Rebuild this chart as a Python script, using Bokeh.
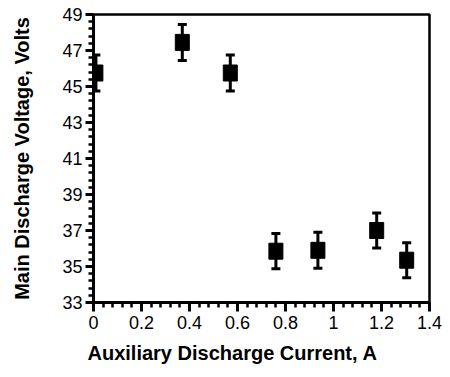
from bokeh.plotting import figure
from bokeh.models import (ColumnDataSource, Range1d, FixedTicker, Whisker,
                          TeeHead, Title)
from bokeh.embed import file_html
from bokeh.resources import INLINE

# Measured discharge data
aux_current = [0.01, 0.37, 0.57, 0.76, 0.935, 1.18, 1.305]      # A
main_voltage = [45.75, 47.45, 45.75, 35.85, 35.9, 37.0, 35.35]  # V
voltage_err = [1.0, 1.0, 1.0, 0.98, 1.0, 0.97, 0.97]            # V

x_ticks = [0, 0.2, 0.4, 0.6, 0.8, 1.0, 1.2, 1.4]
y_ticks = [33, 35, 37, 39, 41, 43, 45, 47, 49]

# minor tick positions: 5 subdivisions per labelled interval
x_minor = [round(i * 0.04, 2) for i in range(36)]
y_minor = [round(33 + i * 0.4, 1) for i in range(41)]

src = ColumnDataSource(dict(
    x=aux_current,
    y=main_voltage,
    upper=[v + e for v, e in zip(main_voltage, voltage_err)],
    lower=[v - e for v, e in zip(main_voltage, voltage_err)],
))

p = figure(width=450, height=377, output_backend="svg", toolbar_location=None,
           x_range=Range1d(0, 1.4), y_range=Range1d(33, 49),
           min_border_left=93, min_border_right=21,
           min_border_top=14, min_border_bottom=75,
           background_fill_color="white", border_fill_color="white")

p.xgrid.visible = False
p.ygrid.visible = False
p.outline_line_color = "black"
p.outline_line_width = 2.5
p.outline_line_alpha = 1.0

TICK_FONT = "Liberation Sans"
LABEL_FONT = "Liberation Sans"

# x axis
xa = p.xaxis[0]
xa.ticker = FixedTicker(ticks=x_ticks, minor_ticks=x_minor)
xa.major_label_overrides = {0: "0", 1: "1"}
xa.axis_line_width = 3
xa.major_tick_line_width = 3
xa.minor_tick_line_width = 2.5
xa.minor_tick_line_color = "black"
xa.major_tick_out = 9
xa.major_tick_in = 0
xa.minor_tick_out = 5
xa.minor_tick_in = 0
xa.major_label_standoff = 4
xa.major_label_text_font = TICK_FONT
xa.major_label_text_font_size = "18px"
xa.major_label_text_color = "black"

# y axis
ya = p.yaxis[0]
ya.ticker = FixedTicker(ticks=y_ticks, minor_ticks=y_minor)
ya.axis_line_width = 3
ya.major_tick_line_width = 3
ya.minor_tick_line_width = 2.5
ya.minor_tick_line_color = "black"
ya.major_tick_out = 8
ya.major_tick_in = 0
ya.minor_tick_out = 5
ya.minor_tick_in = 0
ya.major_label_standoff = 3
ya.major_label_text_font = TICK_FONT
ya.major_label_text_font_size = "18px"
ya.major_label_text_color = "black"
ya.axis_label = "Main Discharge Voltage, Volts"
ya.axis_label_text_font = LABEL_FONT
ya.axis_label_text_font_style = "bold"
ya.axis_label_text_font_size = "20px"
ya.axis_label_text_color = "black"
ya.axis_label_standoff = 26

# x axis title, left-aligned under the frame
p.add_layout(Title(text="Auxiliary Discharge Current, A", align="left",
                   offset=-6, standoff=17, text_font=LABEL_FONT,
                   text_font_style="bold", text_font_size="20px",
                   text_color="black"), "below")

# error bars with tee caps
whisk = Whisker(source=src, base="x", upper="upper", lower="lower",
                line_color="black", line_width=3,
                upper_head=TeeHead(size=9, line_width=3, line_color="black"),
                lower_head=TeeHead(size=9, line_width=3, line_color="black"))
p.add_layout(whisk)

# square markers
p.rect(x="x", y="y", width=14, height=16, width_units="screen",
       height_units="screen", source=src, fill_color="black",
       line_color="black")

open("out.html", "w").write(file_html(p, INLINE))
